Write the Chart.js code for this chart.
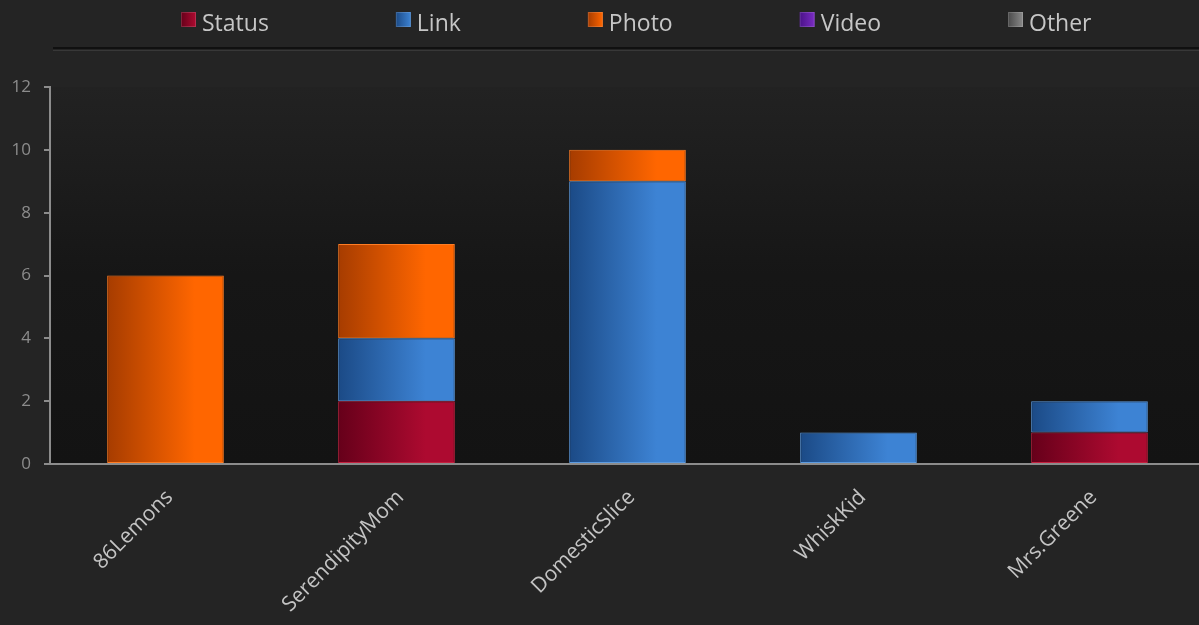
<!DOCTYPE html>
<html>
<head>
<meta charset="utf-8">
<script src="https://cdn.jsdelivr.net/npm/chart.js@4.4.1/dist/chart.umd.min.js"></script>
<style>
  html, body { margin: 0; padding: 0; background: #242424; overflow: hidden; }
  #wrap { width: 1199px; height: 625px; overflow: hidden; position: relative; }
  canvas { display: block; }
</style>
</head>
<body>
<div id="wrap"><canvas id="posts" width="1210" height="625"></canvas></div>
<script>
// post counts per blogger, split by post type
const categories = ['86Lemons', 'SerendipityMom', 'DomesticSlice', 'WhiskKid', 'Mrs.Greene'];
const statusPosts = [0, 2, 0, 0, 1];
const linkPosts = [0, 2, 9, 1, 1];
const photoPosts = [6, 3, 1, 0, 0];
const videoPosts = [0, 0, 0, 0, 0];
const otherPosts = [0, 0, 0, 0, 0];
const yTicks = [0, 2, 4, 6, 8, 10, 12];

const FONT = "'Open Sans', sans-serif";

// horizontal shading across each bar: dark on the left, bright on the right
function barFill(from, to) {
  return function(ctx) {
    const chart = ctx.chart;
    const xs = chart.scales.x;
    if (!chart.chartArea || !xs || ctx.dataIndex === undefined) return to;
    const cx = xs.getPixelForValue(ctx.dataIndex);
    const half = xs.width / categories.length * 0.2525;
    const g = chart.ctx.createLinearGradient(cx - half, 0, cx + half, 0);
    g.addColorStop(0, from);
    g.addColorStop(0.75, to);
    g.addColorStop(1, to);
    return g;
  };
}

function series(label, data, from, to, border) {
  return {
    label: label,
    data: data,
    backgroundColor: barFill(from, to),
    borderColor: border,
    // empty segments get no outline, so nothing shows on the baseline
    borderWidth: function(ctx) { return ctx.raw ? 1 : 0; },
    borderSkipped: false,
    legendFrom: from,
    legendTo: to,
  };
}

// plot panel background, fading from the page tone into near black
const panelBg = {
  id: 'panelBg',
  beforeDraw(chart) {
    const a = chart.chartArea;
    const c = chart.ctx;
    const g = c.createLinearGradient(0, a.top, 0, a.bottom);
    g.addColorStop(0, '#222222');
    g.addColorStop(0.5, '#161616');
    g.addColorStop(1, '#131313');
    c.save();
    c.fillStyle = g;
    c.fillRect(a.left, a.top, a.right - a.left, a.bottom - a.top);
    c.restore();
  },
};

// legend row along the top with the divider line under it
const topLegend = {
  id: 'topLegend',
  afterDraw(chart) {
    const c = chart.ctx;
    c.save();
    c.fillStyle = '#101010';
    c.fillRect(53, 47, chart.width - 53, 2);
    c.fillStyle = '#383838';
    c.fillRect(53, 50, chart.width - 53, 1);

    c.font = '23px ' + FONT;
    c.textBaseline = 'alphabetic';
    let x = 181;
    chart.data.datasets.forEach(function(ds) {
      const g = c.createLinearGradient(x, 0, x + 15, 0);
      g.addColorStop(0, ds.legendFrom);
      g.addColorStop(1, ds.legendTo);
      c.fillStyle = g;
      c.fillRect(x, 12, 15, 15);
      c.strokeStyle = 'rgba(255,255,255,0.15)';
      c.lineWidth = 1;
      c.strokeRect(x + 0.5, 12.5, 14, 14);
      c.fillStyle = '#c6c6c6';
      c.fillText(ds.label, x + 21, 31);
      x += 21 + c.measureText(ds.label).width + 127;
    });
    c.restore();
  },
};

new Chart(document.getElementById('posts'), {
  type: 'bar',
  data: {
    labels: categories,
    datasets: [
      series('Status', statusPosts, '#66001a', '#ad0a30', '#c4213f'),
      series('Link', linkPosts, '#1b4a86', '#3d83d4', '#5c9be0'),
      series('Photo', photoPosts, '#a63c00', '#ff6600', '#ff7d24'),
      series('Video', videoPosts, '#4a1288', '#7a2cc2', '#8c44d0'),
      series('Other', otherPosts, '#4a4a4a', '#8a8a8a', '#9a9a9a'),
    ],
  },
  options: {
    responsive: false,
    animation: false,
    layout: { padding: { top: 87, right: 5, bottom: 0, left: 0 } },
    plugins: {
      legend: { display: false },
      tooltip: { enabled: false },
    },
    datasets: {
      bar: { categoryPercentage: 1, barPercentage: 0.505 },
    },
    scales: {
      x: {
        stacked: true,
        grid: { display: false },
        border: { display: true, color: '#8c8c8c', width: 2 },
        ticks: {
          color: '#c4c4c4',
          font: { family: FONT, size: 21 },
          minRotation: 45,
          maxRotation: 45,
          autoSkip: false,
          padding: 13,
          labelOffset: 4,
        },
        afterFit(scale) { scale.height = 161; },
      },
      y: {
        stacked: true,
        min: 0,
        max: 12,
        afterBuildTicks(scale) {
          scale.ticks = yTicks.map(function(v) { return { value: v }; });
        },
        grid: {
          drawOnChartArea: false,
          drawTicks: true,
          tickLength: 6,
          color: '#8c8c8c',
          lineWidth: 2,
        },
        border: { display: true, color: '#8c8c8c', width: 2 },
        ticks: {
          color: '#8c8c8c',
          font: { family: FONT, size: 17 },
          padding: 13,
        },
        afterFit(scale) { scale.width = 50; },
      },
    },
  },
  plugins: [panelBg, topLegend],
});
</script>
</body>
</html>
